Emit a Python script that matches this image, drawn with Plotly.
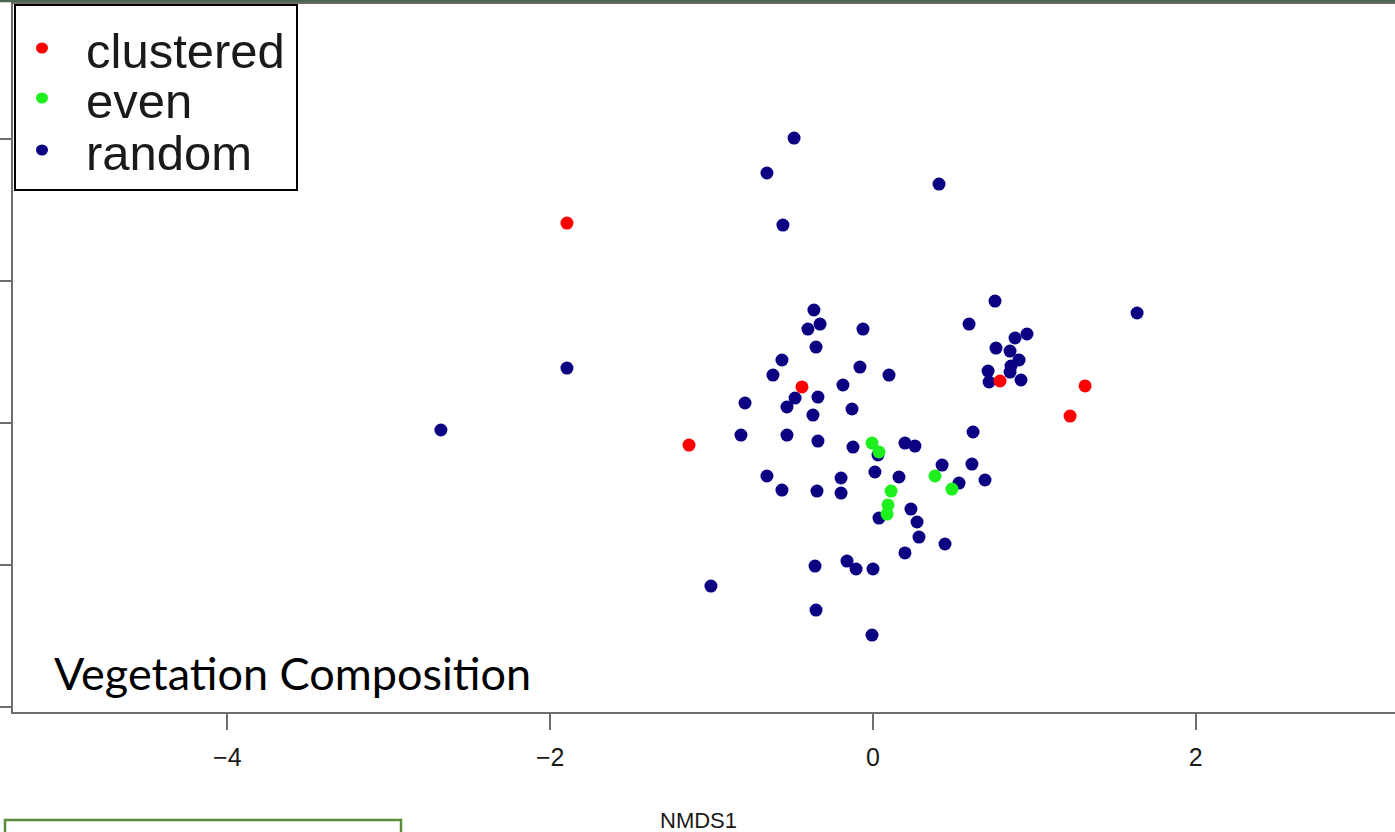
import plotly.graph_objects as go

# ---- data (NMDS scores) ----
random_x = [-0.489, -0.657, 0.409, -0.558, -1.896, -2.677, 0.756, 1.636, -0.366, -0.403,
            -0.328, -0.062, 0.595, -0.353, -0.564, -0.620, -0.081, 0.099, -0.186, -0.793,
            -0.483, -0.533, -0.341, -0.130, -0.372, -0.818, -0.533, -0.341, -0.124, 0.031,
            0.198, 0.260, 0.620, -0.657, -0.564, -0.347, -0.198, -0.198, 0.012, 0.161,
            0.428, 0.613, 0.533, 0.694, 0.037, 0.235, 0.273, 0.285, 0.446, 0.198,
            -0.359, -0.161, -0.105, 0.000, -1.004, -0.353, -0.006, 0.954, 0.880, 0.762,
            0.849, 0.905, 0.855, 0.713, 0.849, 0.719, 0.917]
random_y = [2.007, 1.761, 1.683, 1.394, 0.387, -0.049, 0.859, 0.775, 0.796, 0.662,
            0.697, 0.662, 0.697, 0.535, 0.444, 0.338, 0.394, 0.338, 0.268, 0.141,
            0.176, 0.113, 0.183, 0.099, 0.056, -0.085, -0.085, -0.127, -0.169, -0.225,
            -0.141, -0.162, -0.063, -0.373, -0.472, -0.479, -0.387, -0.493, -0.345, -0.380,
            -0.296, -0.289, -0.423, -0.401, -0.669, -0.606, -0.697, -0.803, -0.852, -0.915,
            -1.007, -0.972, -1.028, -1.028, -1.148, -1.317, -1.493, 0.627, 0.599, 0.528,
            0.507, 0.444, 0.401, 0.366, 0.359, 0.289, 0.303]

even_x = [-0.006, 0.037, 0.384, 0.489, 0.112, 0.093, 0.087]
even_y = [-0.141, -0.204, -0.373, -0.465, -0.479, -0.577, -0.641]

clustered_x = [-1.896, -0.440, -1.140, 0.787, 1.314, 1.221]
clustered_y = [1.408, 0.254, -0.155, 0.296, 0.261, 0.049]

legend_labels = ["clustered", "even", "random"]
colors = {"clustered": "#ff0000", "even": "#1ef01e", "random": "#0c0082"}

x_ticks = [-4, -2, 0, 2]
x_tick_text = ["\u22124", "\u22122", "0", "2"]
y_ticks = [-2, -1, 0, 1, 2]

# ---- layout geometry (pixels) ----
W, H = 1395, 832
L, R, T, B = 13, 0, 4, 120
pw, ph = W - L - R, H - T - B


def px_x(p):
    return (p - L) / pw


def px_y(p):
    return (H - B - p) / ph


fig = go.Figure()
for name, xs, ys in [("random", random_x, random_y),
                     ("even", even_x, even_y),
                     ("clustered", clustered_x, clustered_y)]:
    fig.add_trace(go.Scatter(
        x=xs, y=ys, mode="markers", name=name, showlegend=False,
        marker=dict(size=13, color=colors[name], line=dict(width=0)),
    ))

axis_col = "#6e6e6e"
fig.update_xaxes(range=[-5.328, 3.234], tickvals=x_ticks, ticktext=x_tick_text,
                 ticks="outside", ticklen=16, tickwidth=2, tickcolor=axis_col,
                 ticklabelstandoff=6,
                 showline=True, linecolor=axis_col, linewidth=2, mirror=True,
                 showgrid=False, zeroline=False,
                 tickfont=dict(family="Liberation Sans", size=25, color="#1a1a1a"))
fig.update_yaxes(range=[-2.035, 2.951], tickvals=y_ticks,
                 ticks="outside", ticklen=14, tickwidth=2, tickcolor=axis_col,
                 showticklabels=False,
                 showline=True, linecolor=axis_col, linewidth=2,
                 showgrid=False, zeroline=False)

shapes = []
annotations = []

# legend box
shapes.append(dict(type="rect", xref="paper", yref="paper",
                   x0=px_x(15), x1=px_x(297), y0=px_y(190), y1=px_y(5),
                   line=dict(color="#000000", width=2), fillcolor="white", layer="above"))
leg_y = [48, 98, 150]
for lab, yy in zip(legend_labels, leg_y):
    shapes.append(dict(type="circle", xref="paper", yref="paper",
                       xsizemode="pixel", ysizemode="pixel",
                       xanchor=px_x(42), yanchor=px_y(yy),
                       x0=-6, x1=6, y0=-5.5, y1=5.5,
                       fillcolor=colors[lab], line=dict(width=0), layer="above"))
    annotations.append(dict(xref="paper", yref="paper", x=px_x(84), y=px_y(yy + 3),
                            text=lab, showarrow=False, xanchor="left", yanchor="middle",
                            font=dict(family="Liberation Sans", size=49, color="#1a1a1a")))

# top frame strip
shapes.append(dict(type="line", xref="paper", yref="paper",
                   x0=-0.02, x1=1.02, y0=px_y(1), y1=px_y(1),
                   line=dict(color="#4d6652", width=2.5), layer="above"))
# green box at bottom-left
shapes.append(dict(type="rect", xref="paper", yref="paper",
                   x0=px_x(5), x1=px_x(401), y0=px_y(845), y1=px_y(820),
                   line=dict(color="#5a8c3c", width=2.5), fillcolor="rgba(0,0,0,0)"))

annotations.append(dict(xref="paper", yref="paper", x=px_x(52), y=px_y(673),
                        text="Vegetation Composition", showarrow=False,
                        xanchor="left", yanchor="middle",
                        font=dict(family="Lato", size=45, color="#000000")))
annotations.append(dict(xref="paper", yref="paper", x=px_x(698), y=px_y(820),
                        text="NMDS1", showarrow=False, xanchor="center", yanchor="middle",
                        font=dict(family="Liberation Sans", size=22, color="#1a1a1a")))

fig.update_layout(width=W, height=H, margin=dict(l=L, r=R, t=T, b=B, pad=0),
                  plot_bgcolor="white", paper_bgcolor="white",
                  shapes=shapes, annotations=annotations, showlegend=False)

fig.write_html("out.html")
